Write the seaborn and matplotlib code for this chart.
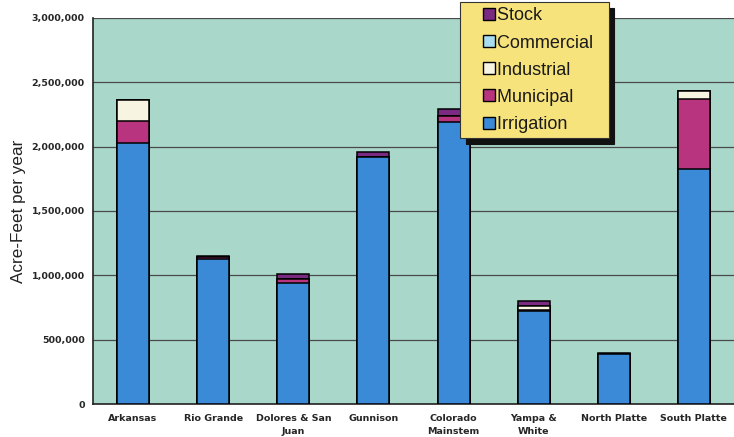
import numpy as np
import matplotlib
matplotlib.use('Agg')
import matplotlib.pyplot as plt
import seaborn as sns
from matplotlib.lines import Line2D
from matplotlib.ticker import FuncFormatter, FixedLocator

# Values (acre-feet per year)
basins = ['Arkansas', 'Rio Grande', 'Dolores & San\nJuan', 'Gunnison',
          'Colorado\nMainstem', 'Yampa &\nWhite', 'North Platte', 'South Platte']
irrigation = np.array([2030000, 1130000, 940000, 1920000, 2190000, 720000, 390000, 1830000])
municipal = np.array([170000, 10000, 30000, 0, 50000, 10000, 0, 540000])
industrial = np.array([160000, 0, 0, 0, 0, 30000, 0, 60000])
commercial = np.array([0, 0, 0, 0, 0, 0, 0, 0])
stock = np.array([0, 10000, 40000, 40000, 50000, 40000, 10000, 0])

layers = [('Irrigation', irrigation, '#3a8ad8'),
          ('Municipal', municipal, '#b8347e'),
          ('Industrial', industrial, '#f8f4e2'),
          ('Commercial', commercial, '#a8dcf0'),
          ('Stock', stock, '#7a2a80')]

sns.set_style('white')
plt.rcParams['font.family'] = ['Liberation Sans', 'DejaVu Sans']

fig = plt.figure(figsize=(7.34, 4.37), dpi=100)
ax = fig.add_axes([93 / 734, 33 / 437, 641 / 734, 386 / 437])
ax.set_facecolor('#a9d7c9')

# stacked bars: draw cumulative totals from the top layer down
cum = np.cumsum([l[1] for l in layers], axis=0)
for i in range(len(layers) - 1, -1, -1):
    name, vals, col = layers[i]
    sns.barplot(x=basins, y=cum[i], color=col, saturation=1, width=0.4,
                edgecolor='black', linewidth=1.1, ax=ax, zorder=3)

ax.set_ylim(0, 3000000)
ax.set_xlim(-0.5, len(basins) - 0.5)
ax.yaxis.set_major_locator(FixedLocator(np.arange(0, 3000001, 500000)))
ax.yaxis.set_major_formatter(FuncFormatter(lambda v, p: f'{int(v):,}'))
ax.grid(axis='y', color='#4a4a4a', linewidth=0.9, zorder=0)
ax.set_axisbelow(True)

for s in ['top', 'right']:
    ax.spines[s].set_visible(False)
for s in ['left', 'bottom']:
    ax.spines[s].set_color('#222222')
    ax.spines[s].set_linewidth(1.2)

ax.tick_params(axis='y', direction='out', length=4, width=1, color='#222222', pad=2)
ax.tick_params(axis='x', length=0, pad=7)
ax.set_xticks(np.arange(0.5, len(basins) - 0.5), minor=True)
ax.tick_params(axis='x', which='minor', direction='out', length=3, width=1, color='#444444')

for lab in ax.get_yticklabels():
    lab.set_fontfamily('DejaVu Sans')
    lab.set_fontweight('bold')
    lab.set_fontsize(6.8)
for lab in ax.get_xticklabels():
    lab.set_fontfamily('DejaVu Sans')
    lab.set_fontweight('bold')
    lab.set_fontsize(6.8)
    lab.set_linespacing(1.55)
    lab.set_verticalalignment('top')

ax.set_xlabel('')
ax.set_ylabel('Acre-Feet per year', fontsize=12.3, labelpad=4, color='#222222')

handles = [Line2D([], [], linestyle='', marker='s', markersize=8.5, markerfacecolor=col,
                  markeredgecolor='black', markeredgewidth=1, label=name + '  ')
           for name, vals, col in layers[::-1]]
leg = fig.legend(handles=handles, loc='upper left', bbox_to_anchor=(460 / 734, 1 - 2 / 437),
                 frameon=True, fancybox=False, fontsize=13, handlelength=2.6,
                 handletextpad=-0.85, labelspacing=0.56,
                 borderpad=0.3, borderaxespad=0,
                 shadow={'ox': 4, 'oy': -4, 'color': '#111111', 'alpha': 1})
leg.get_frame().set_facecolor('#f7e37c')
leg.get_frame().set_edgecolor('#333333')
leg.get_frame().set_linewidth(0.8)
leg.get_frame().set_alpha(1)
leg.set_zorder(10)
for t in leg.get_texts():
    t.set_color('#1a1a1a')

fig.savefig('out.png', dpi=100)
